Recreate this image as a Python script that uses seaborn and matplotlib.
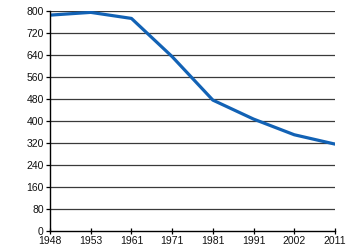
import matplotlib
matplotlib.use("Agg")
import matplotlib.pyplot as plt
import seaborn as sns
import pandas as pd

years = ["1948", "1953", "1961", "1971", "1981", "1991", "2002", "2011"]
values = [785, 795, 773, 634, 476, 407, 350, 316]
y_ticks = [0, 80, 160, 240, 320, 400, 480, 560, 640, 720, 800]

sns.set_style("white")
plt.rcParams['font.family'] = ['Liberation Sans', 'DejaVu Sans']

df = pd.DataFrame({"year": years, "value": values})

fig = plt.figure(figsize=(3.5, 2.5), dpi=100)
ax = fig.add_axes([0.143, 0.076, 0.814, 0.88])
sns.lineplot(data=df, x="year", y="value", ax=ax, color="#1262b5", linewidth=2.3, sort=False)

ax.set_xlim(0, len(years) - 1)
ax.set_ylim(0, 800)
ax.set_yticks(y_ticks)
ax.set_yticklabels([str(t) for t in y_ticks])
ax.set_xticks(range(len(years)))
ax.set_xticklabels(years)
ax.set_xlabel("")
ax.set_ylabel("")
for t in y_ticks[1:]:
    ax.axhline(t, color="#3a3a3a", linewidth=0.9, zorder=0)
for s in ["top", "right"]:
    ax.spines[s].set_visible(False)
for s in ["left", "bottom"]:
    ax.spines[s].set_color("black")
    ax.spines[s].set_linewidth(1.0)
ax.tick_params(axis="y", which="both", left=True, length=3, width=0.9, color="black",
               labelsize=7.5, pad=1.5, labelcolor="#111111")
ax.tick_params(axis="x", which="both", bottom=True, direction="inout", length=5, width=0.9,
               color="black", labelsize=7.5, pad=1.0, labelcolor="#111111")

fig.savefig("out.png", dpi=100)
